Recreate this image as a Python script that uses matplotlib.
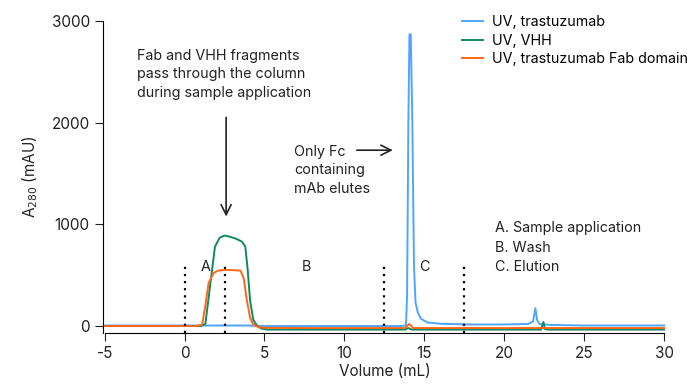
import numpy as np
import matplotlib.pyplot as plt

plt.rcParams['font.family'] = ['Inter', 'DejaVu Sans']
plt.rcParams['axes.unicode_minus'] = False

# UV traces (volume in mL, A280 in mAU)
tras_x = [-5, 0, 4, 5, 8, 12, 13.5, 13.85, 13.92, 14.0, 14.07, 14.15, 14.25, 14.35, 14.45, 14.6, 14.8, 15.2, 16,
          17, 18, 20, 21.5, 21.8, 21.95, 22.05, 22.2, 22.5, 23, 25, 30]
tras_y = [5, 5, 5, 0, 0, 0, 0, 5, 300, 2000, 2870, 2870, 2000, 600, 230, 130, 70, 35, 22,
          18, 15, 15, 20, 45, 175, 60, 20, 15, 10, 5, 5]

vhh_x = [-5, 1.0, 1.3, 1.6, 1.9, 2.2, 2.5, 2.8, 3.2, 3.6, 3.8, 3.95, 4.1, 4.3, 4.55, 4.8, 5.2, 8, 13.8, 14.0, 14.2,
         22.3, 22.45, 22.55, 22.7, 30]
vhh_y = [0, 0, 20, 400, 780, 870, 890, 880, 860, 830, 780, 550, 250, 60, 0, -25, -35, -35, -35, -20, -35,
         -35, 40, -30, -35, -35]

fab_x = [-5, 0.8, 1.1, 1.3, 1.5, 1.8, 2.1, 2.6, 3.0, 3.5, 3.7, 3.9, 4.1, 4.3, 4.6, 5.0, 8, 13.8, 14.05, 14.3,
         30]
fab_y = [0, 0, 15, 200, 420, 520, 545, 552, 550, 545, 470, 250, 80, 15, -10, -18, -20, -20, 20, -20,
         -20]

phase_lines = [0, 2.5, 12.5, 17.5]
phase_labels = ['A', 'B', 'C']
phase_label_x = [1.3, 7.6, 15.0]
phase_legend = ['A. Sample application', 'B. Wash', 'C. Elution']

blue = '#4ea5ff'
green = '#0b8a60'
orange = '#ff6616'
ink = '#222222'

fig = plt.figure(figsize=(6.87, 3.91), dpi=100)
ax = fig.add_axes([0.150, 0.148, 0.819, 0.798])

ax.plot(tras_x, tras_y, color=blue, lw=1.4, label='UV, trastuzumab')
ax.plot(vhh_x, vhh_y, color=green, lw=1.4, label='UV, VHH')
ax.plot(fab_x, fab_y, color=orange, lw=1.4, label='UV, trastuzumab Fab domain')

for v in phase_lines:
    ax.plot([v, v], [-70, 610], color='black', lw=1.6, ls=(0, (1, 2.2)))
for lab, lx in zip(phase_labels, phase_label_x):
    ax.text(lx, 580, lab, fontsize=10.3, ha='center', va='center', color=ink)
for i, t in enumerate(phase_legend):
    ax.text(19.4, 963 - i * 192, t, fontsize=10.3, ha='left', va='center', color=ink)

ax.text(-3.0, 2478, 'Fab and VHH fragments\npass through the column\nduring sample application',
        fontsize=10.3, ha='left', va='center', linespacing=1.4, color=ink)
ax.annotate('', xy=(2.6, 1050), xytext=(2.6, 2080),
            arrowprops=dict(arrowstyle='->', color=ink, lw=1.2, mutation_scale=18))
ax.text(6.85, 1534, 'Only Fc\ncontaining\nmAb elutes', fontsize=10.3, ha='left', va='center',
        linespacing=1.4, color=ink)
ax.annotate('', xy=(13.2, 1730), xytext=(10.6, 1730),
            arrowprops=dict(arrowstyle='->', color=ink, lw=1.2, mutation_scale=18))

ax.set_xlim(-5.1, 30.1)
ax.set_ylim(-70, 3000)
ax.set_xticks(np.arange(-5, 31, 5))
ax.set_yticks([0, 1000, 2000, 3000])
ax.spines['top'].set_visible(False)
ax.spines['right'].set_visible(False)
ax.spines['left'].set_bounds(-70, 3000)
ax.spines['bottom'].set_bounds(-5, 30)
ax.tick_params(labelsize=11, length=6, color=ink, labelcolor=ink)
ax.set_xlabel('Volume (mL)', fontsize=11, color=ink, labelpad=2)
ax.set_ylabel('A$_{280}$ (mAU)', fontsize=11, color=ink, labelpad=8)

ax.legend(loc='upper right', bbox_to_anchor=(1.062, 1.06), frameon=False, fontsize=10.3,
          handlelength=1.5, handletextpad=0.6, labelspacing=0.3)

fig.savefig('out.png', dpi=100)
